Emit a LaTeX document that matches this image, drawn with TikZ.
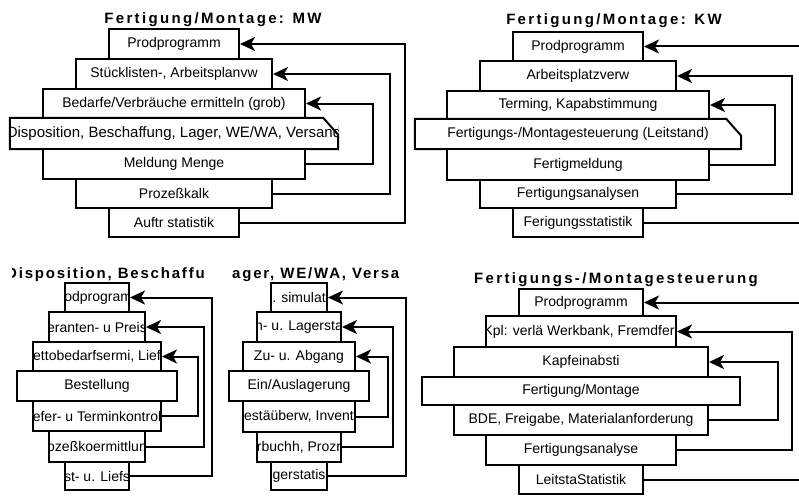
\documentclass[tikz,border=0pt]{standalone}
\usepackage{fontspec}
\setmainfont{Liberation Sans}
\newfontfamily\headfont{Liberation Sans}[LetterSpace=15.5]
\newfontfamily\headfontnarrow{Liberation Sans}[LetterSpace=12]
\usetikzlibrary{arrows.meta}

% feedback arrow tip
\tikzset{fbhead/.tip={Stealth[length=15pt, width=14pt, inset=4pt]}}

% a plain block; its text is clipped to the block outline
% #1 name, #2 centre x, #3 width, #4 top, #5 bottom, #6 text
\newcommand\blk[6]{%
  \node[blk, minimum width=#3pt, minimum height=#5pt-#4pt,
    path picture={\node[blktxt] (#1-t) at (path picture bounding box.center) {#6};}]
    (#1) at (#2,{(#4+#5)/2}) {};}

% a block with its upper right corner cut off
\newcommand\chbox[6]{%
  \node[minimum width=#3pt, minimum height=#5pt-#4pt, inner sep=0pt] (#1) at (#2,{(#4+#5)/2}) {};
  \fill[white] (#1.south west) -- (#1.north west) -- ([xshift=-15pt]#1.north east)
    -- ([yshift=-17pt]#1.north east) -- (#1.south east) -- cycle;
  \begin{scope}
    \clip (#1.south west) rectangle (#1.north east);
    \node[blktxt] (#1-t) at (#1.center) {#6};
  \end{scope}
  \draw[boxline] (#1.south west) -- (#1.north west) -- ([xshift=-15pt]#1.north east)
    -- ([yshift=-17pt]#1.north east) -- (#1.south east) -- cycle;}

\begin{document}
\begin{tikzpicture}[x=1pt, y=-1pt,
  boxline/.style={line width=2pt, line join=miter},
  blk/.style={boxline, draw=black, fill=white, inner sep=0pt},
  blktxt/.style={draw=none, fill=none, inner sep=0pt, font=\fontsize{14}{16}\selectfont},
  title/.style={inner sep=0pt, font=\headfont\bfseries\fontsize{15}{17}\selectfont},
  cuttitle/.style={inner sep=0pt, font=\headfontnarrow\bfseries\fontsize{15}{17}\selectfont},
  fb/.style={line width=2pt, line join=miter, arrows={-fbhead}}]

\useasboundingbox (0,0) rectangle (799,495);
\clip (0,0) rectangle (799,495);

% ---------- Fertigung/Montage: MW ----------
\node[title, anchor=base] (t1) at (213,24) {Fertigung/Montage: MW};
\blk{a1}{174}{130}{29}{59}{Prodprogramm}
\blk{a2}{174}{196}{59}{89}{Stücklisten-, Arbeitsplanvw}
\blk{a3}{174}{262}{89}{118}{Bedarfe/Verbräuche ermitteln (grob)}
\chbox{a4}{174}{328}{118}{149}{\fontsize{15}{17}\selectfont Disposition, Beschaffung, Lager, WE/WA, Versand}
\blk{a5}{174}{262}{149}{179}{Meldung Menge}
\blk{a6}{174}{196}{179}{208}{Prozeßkalk}
\blk{a7}{174}{130}{208}{237}{Auftr statistik}
\coordinate (ax1) at (373,0);
\coordinate (ax2) at (390,0);
\coordinate (ax3) at (405,0);
\draw[fb] (a5.east) -- (a5.east -| ax1) |- (a3.east);
\draw[fb] (a6.east) -- (a6.east -| ax2) |- (a2.east);
\draw[fb] (a7.east) -- (a7.east -| ax3) |- (a1.east);

% ---------- Fertigung/Montage: KW ----------
\node[title, anchor=base] (t2) at (614,25) {Fertigung/Montage: KW};
\blk{b1}{578}{130}{32}{61}{Prodprogramm}
\blk{b2}{578}{196}{61}{91}{Arbeitsplatzverw}
\blk{b3}{578}{262}{91}{119}{Terming, Kapabstimmung}
\chbox{b4}{578}{326}{119}{149}{Fertigungs-/Montagesteuerung (Leitstand)}
\blk{b5}{578}{262}{149}{180}{Fertigmeldung}
\blk{b6}{578}{196}{180}{208}{Fertigungsanalysen}
\blk{b7}{578}{130}{208}{237}{Ferigungsstatistik}
\coordinate (bx1) at (775,0);
\coordinate (bx2) at (792,0);
\coordinate (bx3) at (815,0);
\draw[fb] (b5.east) -- (b5.east -| bx1) |- (b3.east);
\draw[fb] (b6.east) -- (b6.east -| bx2) |- (b2.east);
\draw[fb] (b7.east) -- (b7.east -| bx3) |- (b1.east);

% ---------- Disposition, Beschaffung ----------
\begin{scope}
  \clip (12.5,255) rectangle (210,286);
  \node[cuttitle, anchor=base west] (t3) at (6,278) {Disposition, Beschaffu};
\end{scope}
\blk{c1}{97}{64}{283}{312}{\phantom{Pr}odprogram\phantom{m}}
\blk{c2}{97}{96}{312}{342}{eranten- u Preis}
\blk{c3}{97}{128}{342}{371}{ettobedarfsermi, Lief}
\blk{c4}{97}{160}{371}{401}{Bestellung}
\blk{c5}{97}{128}{401}{431}{efer- u Terminkontrol}
\blk{c6}{97}{96}{431}{462}{ozeßkoermittlun}
\blk{c7}{97}{64}{462}{490}{st- u. Liefs}
\coordinate (cx1) at (198,0);
\coordinate (cx2) at (204,0);
\coordinate (cx3) at (212,0);
\draw[fb] (c5.east) -- (c5.east -| cx1) |- (c3.east);
\draw[fb] (c6.east) -- (c6.east -| cx2) |- (c2.east);
\draw[fb] (c7.east) -- (c7.east -| cx3) |- (c1.east);

% ---------- Lager, WE/WA, Versand ----------
\begin{scope}
  \clip (229,255) rectangle (403,286);
  \node[cuttitle, anchor=base west] (t4) at (232,278) {ager, WE/WA, Versa};
\end{scope}
\blk{d1}{299}{56}{283}{312}{. simulat}
\blk{d2}{299}{84}{312}{342}{n- u. Lagersta}
\blk{d3}{299}{112}{342}{371}{Zu- u. Abgang}
\blk{d4}{299}{140}{371}{401}{Ein/Auslagerung}
\blk{d5}{299}{112}{401}{432}{estäüberw, Invent}
\blk{d6}{299}{84}{432}{462}{rbuchh, Prozr}
\blk{d7}{299}{56}{462}{490}{gerstatis}
\coordinate (dx1) at (388,0);
\coordinate (dx2) at (393,0);
\coordinate (dx3) at (406,0);
\draw[fb] (d5.east) -- (d5.east -| dx1) |- (d3.east);
\draw[fb] (d6.east) -- (d6.east -| dx2) |- (d2.east);
\draw[fb] (d7.east) -- (d7.east -| dx3) |- (d1.east);

% ---------- Fertigungs-/Montagesteuerung ----------
\node[title, anchor=base] (t5) at (616,283) {Fertigungs-/Montagesteuerung};
\blk{e1}{581}{124}{289}{316}{Prodprogramm}
\blk{e2}{581}{190}{316}{347}{Kpl: verlä Werkbank, Fremdfer\phantom{t}}
\blk{e3}{581}{254}{347}{377}{Kapfeinabsti}
\blk{e4}{581}{318}{377}{405}{Fertigung/Montage}
\blk{e5}{581}{254}{405}{435}{BDE, Freigabe, Materialanforderung}
\blk{e6}{581}{190}{435}{465}{Fertigungsanalyse}
\blk{e7}{581}{124}{465}{494}{LeitstaStatistik}
\coordinate (ex1) at (778,0);
\coordinate (ex2) at (792,0);
\coordinate (ex3) at (815,0);
\draw[fb] (e5.east) -- (e5.east -| ex1) |- (e3.east);
\draw[fb] (e6.east) -- (e6.east -| ex2) |- (e2.east);
\draw[fb] (e7.east) -- (e7.east -| ex3) |- (e1.east);
\end{tikzpicture}
\end{document}
